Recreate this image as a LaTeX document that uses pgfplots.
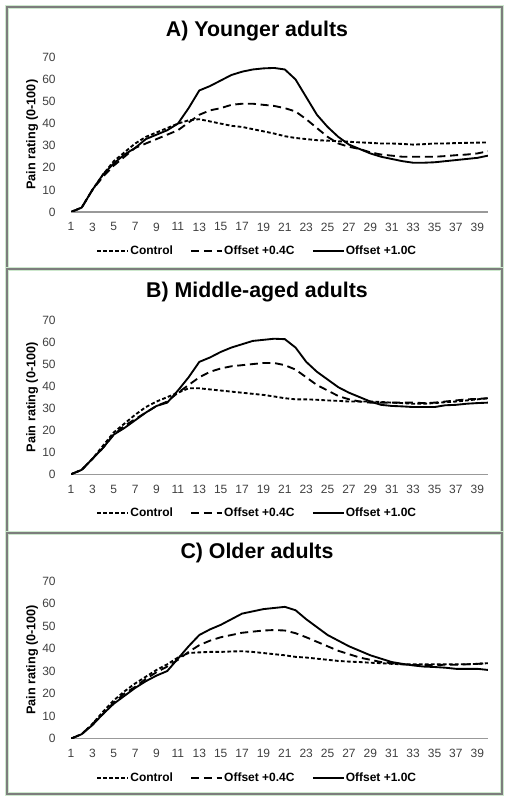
\documentclass[border=0pt]{standalone}
\usepackage{fontspec}
\setmainfont{Liberation Sans}
\usepackage{pgfplots}
\pgfplotsset{compat=1.18}
\definecolor{framegray}{RGB}{125,125,125}
\definecolor{halo}{RGB}{205,232,205}
\pgfplotsset{
 panel/.style={
   scale only axis, width=312.75pt,
   xmin=1, xmax=40, ymin=0, ymax=70,
   xtick={1,3,...,39}, ytick={0,10,...,70},
   axis x line=bottom, axis y line=left,
   x axis line style={-, draw=black!40, line width=0.9pt},
   y axis line style={draw=none},
   major tick length=0pt,
   tick label style={font=\fontsize{9}{10}\selectfont, text=black!75},
   /pgf/number format/assume math mode=true,
   yticklabel style={xshift=-8pt},
   xticklabel style={yshift=-4.5pt},
   every axis y label/.style={at={(axis description cs:-0.0935,0.5)},rotate=90,anchor=center,font=\bfseries\fontsize{9.5}{10}\selectfont},
   ylabel={Pain rating (0-100)},
   legend columns=3,
   legend style={at={(axis description cs:0.446,-0.25)}, anchor=center, draw=none, fill=none,
     font=\bfseries\fontsize{9}{10}\selectfont,
     /tikz/every even column/.append style={column sep=12pt}, nodes={inner sep=1pt}},
   legend image code/.code={\draw[#1] (0pt,0pt) -- (23pt,0pt);},
 },
 ctrl/.style={black, line width=1.4pt, dash pattern=on 2.8pt off 1.7pt},
 offa/.style={black, line width=1.4pt, dash pattern=on 6pt off 3.5pt},
 offb/.style={black, line width=1.4pt},
}
\begin{document}
\begin{tikzpicture}
\path[use as bounding box] (0,0) rectangle (384pt,603pt);
% frames
\foreach \ya/\yb in {597.75/401.25, 401.25/203.25, 203.25/7.5}{
  \draw[halo, line width=3pt] (5.25pt,\ya pt) rectangle (376.5pt,\yb pt);
  \draw[framegray, line width=0.9pt] (5.25pt,\ya pt) rectangle (376.5pt,\yb pt);
}
\node[font=\bfseries\fontsize{16}{18}\selectfont] at (192.75pt,580pt) {A) Younger adults};
\node[font=\bfseries\fontsize{16}{18}\selectfont] at (192.75pt,384pt) {B) Middle-aged adults};
\node[font=\bfseries\fontsize{16}{18}\selectfont] at (192.75pt,187.9pt) {C) Older adults};

% Panel A
\begin{axis}[panel, height=116pt, at={(53.25pt,444pt)}, anchor=south west]
\addplot[ctrl] coordinates {(1,0)(2,2)(3,10)(4,17)(5,23)(6,27)(7,31)(8,34)(9,36)(10,38)(11,40)(12,41.5)(13,42)(14,41)(15,40)(16,39)(17,38.5)(18,37.5)(19,36.5)(20,35.5)(21,34.3)(22,33.5)(23,33)(24,32.5)(25,32.3)(26,32)(27,31.8)(28,31.5)(29,31.3)(30,31)(31,31)(32,30.8)(33,30.5)(34,30.7)(35,31)(36,31)(37,31.2)(38,31.3)(39,31.4)(40,31.5)};
\addplot[offa] coordinates {(1,0)(2,2)(3,10)(4,16)(5,21)(6,25)(7,29)(8,31)(9,33)(10,35)(11,37)(12,40.5)(13,44)(14,46)(15,47)(16,48.5)(17,49)(18,49)(19,48.5)(20,48)(21,47)(22,45.5)(23,42)(24,38)(25,34)(26,31)(27,29.5)(28,28.5)(29,27)(30,26)(31,25.5)(32,25)(33,25)(34,25)(35,25)(36,25.3)(37,25.7)(38,26)(39,26.5)(40,27.5)};
\addplot[offb] coordinates {(1,0)(2,2)(3,10)(4,17)(5,22)(6,26)(7,29)(8,33)(9,35)(10,37)(11,40)(12,47)(13,55)(14,57)(15,59.5)(16,62)(17,63.5)(18,64.5)(19,65)(20,65.2)(21,64.5)(22,60)(23,52)(24,44)(25,38.5)(26,34)(27,30.5)(28,28.5)(29,26.5)(30,25)(31,24)(32,23)(33,22.3)(34,22.3)(35,22.5)(36,23)(37,23.5)(38,24)(39,24.5)(40,25.5)};
\legend{Control,Offset +0.4C,Offset +1.0C}
\end{axis}

% Panel B
\begin{axis}[panel, height=115.7pt, at={(53.25pt,247.3pt)}, anchor=south west]
\addplot[ctrl] coordinates {(1,0)(2,2)(3,7)(4,13)(5,19)(6,23)(7,27)(8,30.5)(9,33)(10,35)(11,37)(12,39)(13,39)(14,38.5)(15,38)(16,37.5)(17,37)(18,36.5)(19,36)(20,35.3)(21,34.5)(22,34)(23,34)(24,33.8)(25,33.5)(26,33.3)(27,33)(28,33)(29,33)(30,32.8)(31,32.5)(32,32.3)(33,32)(34,32)(35,32.3)(36,32.7)(37,33)(38,33.5)(39,34)(40,34.5)};
\addplot[offa] coordinates {(1,0)(2,2)(3,7)(4,12)(5,18)(6,22)(7,25)(8,28)(9,31)(10,33)(11,37)(12,40.5)(13,44)(14,46.5)(15,48)(16,49)(17,49.5)(18,50)(19,50.5)(20,50.5)(21,49.5)(22,47.5)(23,44)(24,40.5)(25,38)(26,35.5)(27,34)(28,33)(29,32.5)(30,32.5)(31,32.5)(32,32.5)(33,32.5)(34,32.3)(35,32.5)(36,33)(37,33.5)(38,34)(39,34.2)(40,34.5)};
\addplot[offb] coordinates {(1,0)(2,2)(3,7)(4,12)(5,18)(6,21)(7,24.5)(8,28)(9,31)(10,32.5)(11,38)(12,44)(13,51)(14,53)(15,55.5)(16,57.5)(17,59)(18,60.5)(19,61)(20,61.5)(21,61.3)(22,57.5)(23,51)(24,46.5)(25,43)(26,39.5)(27,37)(28,35)(29,33)(30,31.5)(31,31)(32,30.8)(33,30.5)(34,30.5)(35,30.5)(36,31.3)(37,31.5)(38,32)(39,32.3)(40,32.5)};
\legend{Control,Offset +0.4C,Offset +1.0C}
\end{axis}

% Panel C
\begin{axis}[panel, height=118.3pt, at={(53.25pt,49pt)}, anchor=south west]
\addplot[ctrl] coordinates {(1,0)(2,2)(3,6.5)(4,12)(5,17)(6,21)(7,24.5)(8,27.5)(9,30.5)(10,33)(11,36)(12,38)(13,38.3)(14,38.5)(15,38.5)(16,38.7)(17,38.8)(18,38.5)(19,38)(20,37.5)(21,37)(22,36.3)(23,36)(24,35.5)(25,35)(26,34.5)(27,34.2)(28,34)(29,33.7)(30,33.5)(31,33.2)(32,33)(33,33)(34,33)(35,33)(36,33)(37,33)(38,33)(39,33.2)(40,33.5)};
\addplot[offa] coordinates {(1,0)(2,2)(3,6.5)(4,11)(5,16)(6,20)(7,23)(8,26.5)(9,29.5)(10,32)(11,35)(12,38.5)(13,41.5)(14,43.5)(15,45)(16,46)(17,47)(18,47.5)(19,48)(20,48.2)(21,48)(22,46.8)(23,45)(24,43)(25,41)(26,39)(27,37.5)(28,36)(29,35)(30,34)(31,33.5)(32,33)(33,32.7)(34,32.7)(35,32.7)(36,32.8)(37,32.8)(38,33)(39,33.2)(40,33.5)};
\addplot[offb] coordinates {(1,0)(2,2)(3,6)(4,11)(5,15.5)(6,19)(7,22.5)(8,25.5)(9,28)(10,30)(11,35.5)(12,41)(13,46)(14,48.5)(15,50.5)(16,53)(17,55.5)(18,56.5)(19,57.5)(20,58)(21,58.5)(22,57)(23,53)(24,49.5)(25,46)(26,43.5)(27,41)(28,39)(29,37)(30,35.5)(31,34)(32,33.2)(33,32.5)(34,32)(35,31.8)(36,31.5)(37,31)(38,31)(39,31)(40,30.5)};
\legend{Control,Offset +0.4C,Offset +1.0C}
\end{axis}
\end{tikzpicture}
\end{document}
